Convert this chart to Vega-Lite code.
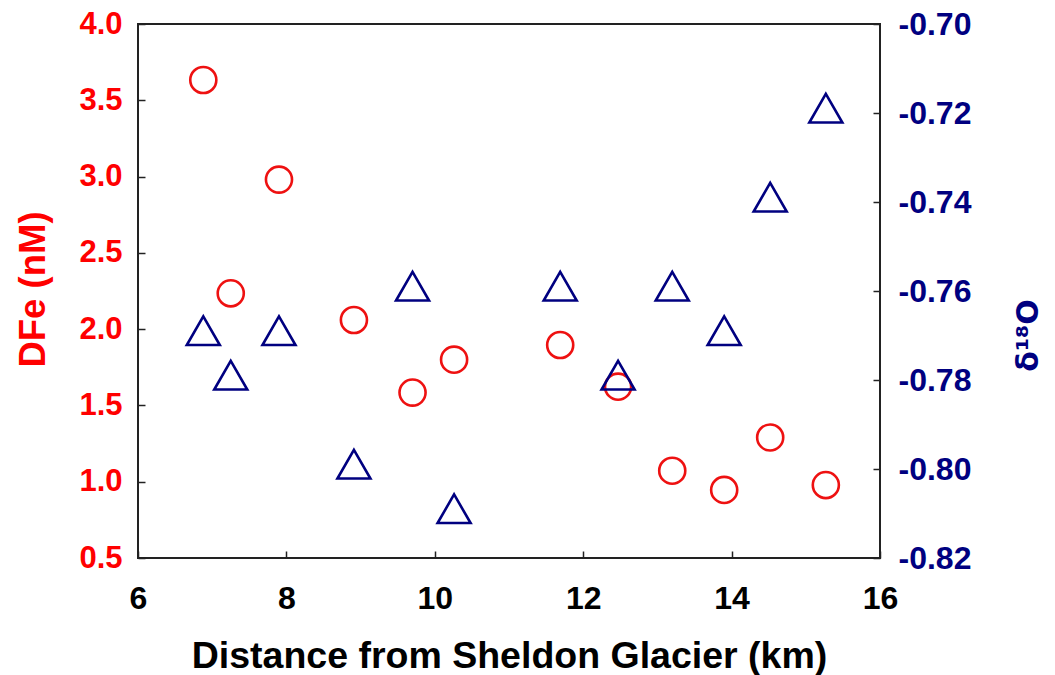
{
  "$schema": "https://vega.github.io/schema/vega-lite/v6.json",
  "width": 742,
  "height": 534,
  "autosize": "none",
  "padding": {"left": 138, "top": 24, "right": 175, "bottom": 117},
  "background": "white",
  "config": {
    "view": {"stroke": "#222222", "strokeWidth": 2},
    "font": "Liberation Sans",
    "axisX": {"labelPadding": 32, "labelBaseline": "top"}
  },
  "data": {
    "values": [
      {"distance": 6.88, "dfe": 3.633, "d18o": -0.77},
      {"distance": 7.25, "dfe": 2.235, "d18o": -0.78},
      {"distance": 7.90, "dfe": 2.98, "d18o": -0.77},
      {"distance": 8.91, "dfe": 2.06, "d18o": -0.80},
      {"distance": 9.70, "dfe": 1.584, "d18o": -0.76},
      {"distance": 10.26, "dfe": 1.80, "d18o": -0.81},
      {"distance": 11.69, "dfe": 1.896, "d18o": -0.76},
      {"distance": 12.47, "dfe": 1.623, "d18o": -0.78},
      {"distance": 13.20, "dfe": 1.072, "d18o": -0.76},
      {"distance": 13.90, "dfe": 0.946, "d18o": -0.77},
      {"distance": 14.52, "dfe": 1.29, "d18o": -0.74},
      {"distance": 15.27, "dfe": 0.978, "d18o": -0.72}
    ]
  },
  "encoding": {
    "x": {
      "field": "distance",
      "type": "quantitative",
      "scale": {"domain": [6, 16], "nice": false, "zero": false},
      "axis": {
        "values": [6, 8, 10, 12, 14, 16],
        "title": "Distance from Sheldon Glacier (km)",
        "domain": false,
        "grid": false,
        "tickSize": -7,
        "tickColor": "#222222",
        "tickWidth": 1.5,
        "labelFont": "Liberation Sans",
        "labelFontWeight": "bold",
        "labelFontSize": 32,
        "labelColor": "#000000",
        "labelPadding": 32,
        "labelFlush": false,
        "titleFont": "Liberation Sans",
        "titleFontWeight": "bold",
        "titleFontSize": 37.5,
        "titleColor": "#000000",
        "titleBaseline": "alphabetic",
        "titleY": 109
      }
    }
  },
  "layer": [
    {
      "mark": {"type": "point", "shape": "circle", "filled": false, "size": 680, "strokeWidth": 2.6, "stroke": "#ee1111", "color": "#ee1111", "opacity": 1},
      "encoding": {
        "y": {
          "field": "dfe",
          "type": "quantitative",
          "scale": {"domain": [0.5, 4], "nice": false, "zero": false},
          "axis": {
            "orient": "left",
            "values": [0.5, 1, 1.5, 2, 2.5, 3, 3.5, 4],
            "format": ".1f",
            "title": "DFe (nM)",
            "domain": false,
            "grid": false,
            "tickSize": -7,
            "tickColor": "#222222",
            "tickWidth": 1.5,
            "labelFont": "Liberation Sans",
            "labelFontWeight": "bold",
            "labelFontSize": 31,
            "labelColor": "#ff0000",
            "labelPadding": 23,
            "labelFlush": false,
            "titleFont": "Liberation Sans",
            "titleFontWeight": "bold",
            "titleFontSize": 36.5,
            "titleColor": "#ff0000",
            "titleAngle": 270,
            "titleBaseline": "alphabetic",
            "titleAlign": "center",
            "titleX": -94,
            "titleY": 265
          }
        }
      }
    },
    {
      "mark": {"type": "point", "shape": "M0,-1.155L1,0.577L-1,0.577Z", "filled": false, "size": 1089, "strokeWidth": 2.6, "stroke": "#000080", "color": "#000080", "opacity": 1},
      "encoding": {
        "y": {
          "field": "d18o",
          "type": "quantitative",
          "scale": {"domain": [-0.82, -0.70], "nice": false, "zero": false},
          "axis": {
            "orient": "right",
            "values": [-0.82, -0.80, -0.78, -0.76, -0.74, -0.72, -0.70],
            "labelExpr": "replace(format(datum.value, '.2f'), '\u2212', '-')",
            "title": "δ¹⁸O",
            "domain": false,
            "grid": false,
            "tickSize": -7,
            "tickColor": "#222222",
            "tickWidth": 1.5,
            "labelFont": "Liberation Sans",
            "labelFontWeight": "bold",
            "labelFontSize": 32,
            "labelColor": "#000080",
            "labelPadding": 25,
            "labelFlush": false,
            "titleFont": "DejaVu Sans",
            "titleFontWeight": "bold",
            "titleFontSize": 30,
            "titleColor": "#000080",
            "titleAngle": 270,
            "titleBaseline": "alphabetic",
            "titleAlign": "center",
            "titleX": 157,
            "titleY": 311
          }
        }
      }
    }
  ],
  "resolve": {"scale": {"y": "independent"}}
}
